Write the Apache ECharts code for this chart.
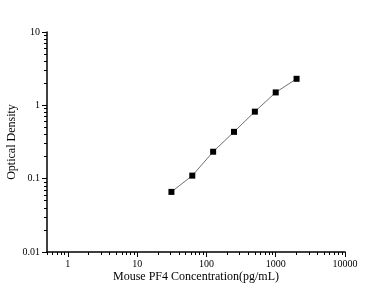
<!DOCTYPE html>
<html>
<head>
<meta charset="utf-8">
<script src="https://cdn.jsdelivr.net/npm/echarts@6/dist/echarts.min.js"></script>
<style>
  html, body { margin: 0; padding: 0; background: #fff; }
  #chart { width: 380px; height: 296px; }
</style>
</head>
<body>
<div id="chart"></div>
<script>
// standard curve: concentration (pg/mL) vs OD
const conc = [31.25, 62.5, 125, 250, 500, 1000, 2000]
const od = [0.066, 0.11, 0.233, 0.435, 0.82, 1.5, 2.3]

const xMajor = [1, 10, 100, 1000, 10000]
const yMajor = [0.01, 0.1, 1, 10]

// minor ticks 2..9 in each decade
const minorTicks = (from, to) => {
  const out = []
  for (let d = from; d < to; d *= 10) {
    for (let k = 2; k <= 9; k++) out.push(+(k * d).toPrecision(3))
  }
  return out
}
const xMinor = minorTicks(0.1, 10000).filter(v => v >= 0.5 && v <= 10000)
const yMinor = minorTicks(0.01, 10)

const chart = echarts.init(document.getElementById('chart'))

const font = 'Liberation Serif'
const fmt = v => String(v)

const baseAxis = {
  type: 'log',
  logBase: 10,
  splitLine: { show: false },
  axisLine: { show: true, lineStyle: { color: '#000', width: 1.5 } },
}

const option = {
  animation: false,
  backgroundColor: '#fff',
  grid: { left: 47, right: 35, top: 32, bottom: 44, outerBoundsMode: 'none', containLabel: false },
  xAxis: [
    {
      ...baseAxis,
      min: 0.5,
      max: 10000,
      name: 'Mouse PF4 Concentration(pg/mL)',
      nameLocation: 'middle',
      nameGap: 19,
      nameMoveOverlap: false,
      nameTextStyle: { fontFamily: font, fontSize: 12, color: '#000' },
      axisTick: { show: true, customValues: xMajor, length: 5, lineStyle: { color: '#000' } },
      axisLabel: { customValues: xMajor, formatter: fmt, fontFamily: font, fontSize: 10, color: '#000', margin: 7 }
    },
    {
      ...baseAxis,
      min: 0.5,
      max: 10000,
      position: 'bottom',
      axisLine: { show: false },
      axisTick: { show: true, customValues: xMinor, length: 3, lineStyle: { color: '#000' } },
      axisLabel: { show: false }
    }
  ],
  yAxis: [
    {
      ...baseAxis,
      min: 0.01,
      max: 10,
      name: 'Optical Density',
      nameLocation: 'middle',
      nameGap: 29,
      nameMoveOverlap: false,
      nameTextStyle: { fontFamily: font, fontSize: 12, color: '#000' },
      axisTick: { show: true, customValues: yMajor, length: 5, lineStyle: { color: '#000' } },
      axisLabel: { customValues: yMajor, formatter: fmt, fontFamily: font, fontSize: 10, color: '#000', margin: 7 }
    },
    {
      ...baseAxis,
      min: 0.01,
      max: 10,
      position: 'left',
      axisLine: { show: false },
      axisTick: { show: true, customValues: yMinor, length: 3, lineStyle: { color: '#000' } },
      axisLabel: { show: false }
    }
  ],
  series: [
    {
      type: 'line',
      data: conc.map((c, i) => [c, od[i]]),
      symbol: 'rect',
      symbolSize: 6,
      itemStyle: { color: '#000' },
      lineStyle: { color: '#707070', width: 1 }
    }
  ]
}

chart.setOption(option)
</script>
</body>
</html>
